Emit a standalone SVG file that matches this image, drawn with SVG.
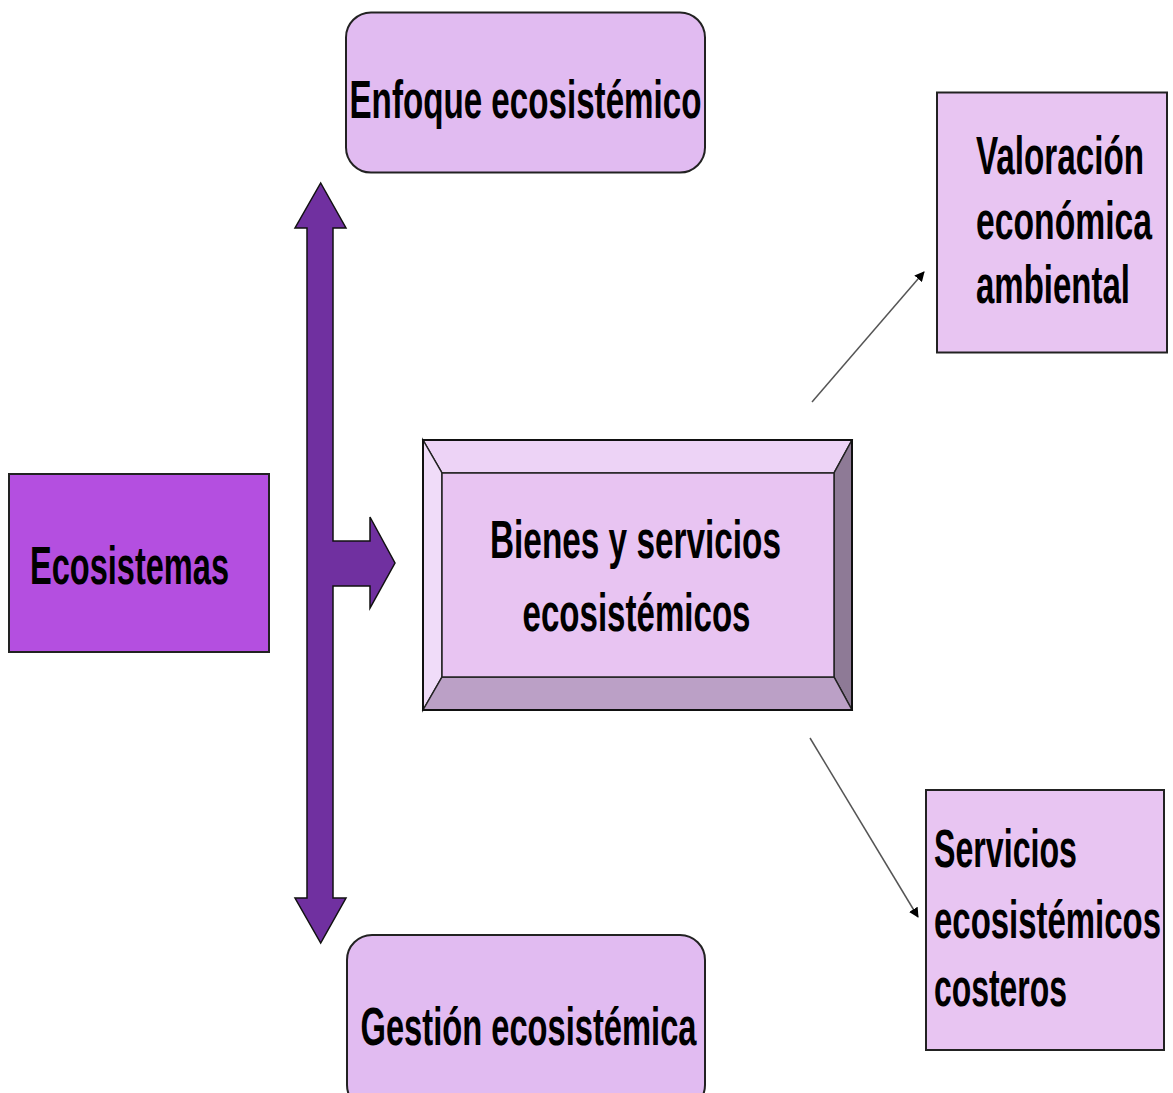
<svg xmlns="http://www.w3.org/2000/svg" width="1173" height="1093" viewBox="0 0 1173 1093">
<defs>
<style>
.t{font-family:"Liberation Sans",Arial,sans-serif;font-weight:bold;font-size:40px;fill:#000}
.box{stroke:#222;stroke-width:2}
.conn{stroke:#555;stroke-width:1.5;fill:none}
</style>
<marker id="ah" markerWidth="10" markerHeight="10" refX="9" refY="5" orient="auto" markerUnits="userSpaceOnUse" viewBox="0 0 10 10">
<path d="M0,0 L10,5 L0,10 Z" fill="#000"/>
</marker>
</defs>
<rect width="1173" height="1093" fill="#fff"/>

<g id="arrow-main">
<path d="M320.7,183 L346,228 L333,228 L333,541 L370,541 L370,517 L395,563 L370,608 L370,586 L333,586 L333,898 L346,898 L320.7,943 L295,898 L307,898 L307,228 L295,228 Z" fill="#7030A0" stroke="#111" stroke-width="1.5" stroke-linejoin="miter"/>
</g>

<g id="node-enfoque">
<rect class="box" x="346" y="12.5" width="359" height="160" rx="25" fill="#E1BBF1"/>
<text class="t" transform="translate(525.5,118) scale(0.8,1.35)" text-anchor="middle" textLength="440" lengthAdjust="spacingAndGlyphs">Enfoque ecosistémico</text>
</g>

<g id="node-gestion">
<rect class="box" x="347" y="935" width="358" height="175" rx="25" fill="#E1BBF1"/>
<text class="t" transform="translate(528.5,1045) scale(0.8,1.35)" text-anchor="middle" textLength="420" lengthAdjust="spacingAndGlyphs">Gestión ecosistémica</text>
</g>

<g id="node-ecosistemas">
<rect class="box" x="9" y="474" width="260" height="178" fill="#B44FE0"/>
<text class="t" transform="translate(30,584) scale(0.8,1.35)" textLength="248.75" lengthAdjust="spacingAndGlyphs">Ecosistemas</text>
</g>

<g id="node-bienes">
<polygon points="423,440 852,440 834,473 442,473" fill="#EDD3F6" stroke="#222" stroke-width="1.5"/>
<polygon points="423,440 442,473 442,677 423,710" fill="#F0DCF9" stroke="#222" stroke-width="1.5"/>
<polygon points="852,440 852,710 834,677 834,473" fill="#8E7A96" stroke="#222" stroke-width="1.5"/>
<polygon points="423,710 442,677 834,677 852,710" fill="#BBA0C6" stroke="#222" stroke-width="1.5"/>
<rect x="442" y="473" width="392" height="204" fill="#E8C4F2" stroke="#222" stroke-width="1.5"/>
<rect x="423" y="440" width="429" height="270" fill="none" stroke="#111" stroke-width="2"/>
<text class="t" transform="translate(635.5,558) scale(0.8,1.35)" text-anchor="middle" textLength="363.75" lengthAdjust="spacingAndGlyphs">Bienes y servicios</text>
<text class="t" transform="translate(636.5,631) scale(0.8,1.35)" text-anchor="middle" textLength="285" lengthAdjust="spacingAndGlyphs">ecosistémicos</text>
</g>

<g id="node-valoracion">
<rect class="box" x="937" y="92.5" width="230" height="260" fill="#E8C5F2"/>
<text class="t" transform="translate(976,174) scale(0.8,1.35)" textLength="210" lengthAdjust="spacingAndGlyphs">Valoración</text>
<text class="t" transform="translate(976,239) scale(0.8,1.35)" textLength="220" lengthAdjust="spacingAndGlyphs">económica</text>
<text class="t" transform="translate(976,303) scale(0.8,1.35)" textLength="192.5" lengthAdjust="spacingAndGlyphs">ambiental</text>
</g>

<g id="node-servicios">
<rect class="box" x="926" y="790" width="238" height="260" fill="#E8C5F2"/>
<text class="t" transform="translate(934,867) scale(0.8,1.35)" textLength="178.75" lengthAdjust="spacingAndGlyphs">Servicios</text>
<text class="t" transform="translate(934,938) scale(0.8,1.35)" textLength="283.75" lengthAdjust="spacingAndGlyphs">ecosistémicos</text>
<text class="t" transform="translate(934,1006) scale(0.8,1.35)" textLength="166.25" lengthAdjust="spacingAndGlyphs">costeros</text>
</g>

<g id="connectors">
<line class="conn" x1="812" y1="402" x2="924" y2="272" marker-end="url(#ah)"/>
<line class="conn" x1="810" y1="738" x2="918" y2="917" marker-end="url(#ah)"/>
</g>
</svg>
